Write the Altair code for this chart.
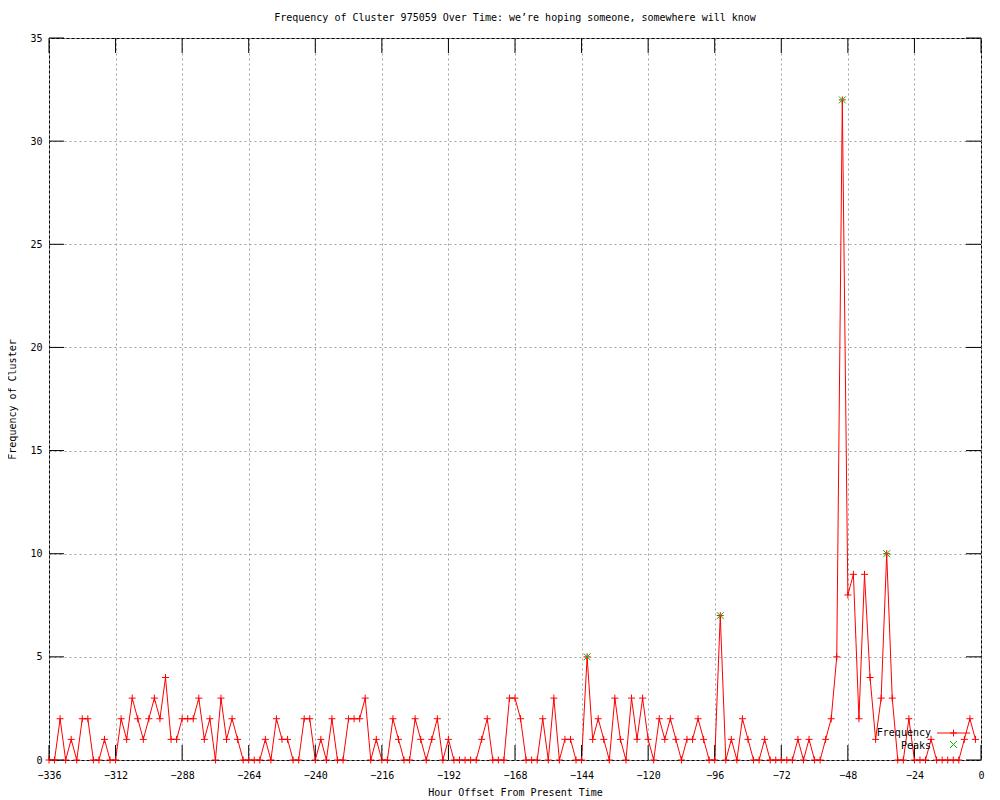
import altair as alt
import pandas as pd

# ---------------- data ----------------
hours = list(range(-336, 0, 2))
frequency = [
    0, 0, 2, 0, 1, 0, 2, 2, 0, 0, 1, 0,      # -336 .. -314
    0, 2, 1, 3, 2, 1, 2, 3, 2, 4, 1, 1,      # -312 .. -290
    2, 2, 2, 3, 1, 2, 0, 3, 1, 2, 1, 0,      # -288 .. -266
    0, 0, 0, 1, 0, 2, 1, 1, 0, 0, 2, 2,      # -264 .. -242
    0, 1, 0, 2, 0, 0, 2, 2, 2, 3, 0, 1,      # -240 .. -218
    0, 0, 2, 1, 0, 0, 2, 1, 0, 1, 2, 0,      # -216 .. -194
    1, 0, 0, 0, 0, 0, 1, 2, 0, 0, 0, 3,      # -192 .. -170
    3, 2, 0, 0, 0, 2, 0, 3, 0, 1, 1, 0,      # -168 .. -146
    0, 5, 1, 2, 1, 0, 3, 1, 0, 3, 1, 3,      # -144 .. -122
    1, 0, 2, 1, 2, 1, 0, 1, 1, 2, 1, 0,      # -120 .. -98
    0, 7, 0, 1, 0, 2, 1, 0, 0, 1, 0, 0,      # -96 .. -74
    0, 0, 0, 1, 0, 1, 0, 0, 1, 2, 5, 32,     # -72 .. -50
    8, 9, 2, 9, 4, 1, 3, 10, 3, 0, 0, 2,     # -48 .. -26
    0, 0, 0, 1, 0, 0, 0, 0, 0, 1, 2, 1,      # -24 .. -2
]
peak_hours = [-142, -94, -50, -34]
peak_values = [5, 7, 32, 10]

x_ticks = [-336, -312, -288, -264, -240, -216, -192, -168, -144, -120, -96, -72, -48, -24, 0]
y_ticks = [0, 5, 10, 15, 20, 25, 30, 35]
legend_labels = ["Frequency", "Peaks"]

title_text = "Frequency of Cluster 975059 Over Time: we\u2019re hoping someone, somewhere will know"
x_title = "Hour Offset From Present Time"
y_title = "Frequency of Cluster"

# ---------------- style ----------------
FONT = "DejaVu Sans Mono"
W, H = 932, 722
RED = "#ff0000"
GREEN = "#00c000"
PLUS = "M-1,0L1,0M0,-1L0,1"
XSHAPE = "M-1,-1L1,1M1,-1L-1,1"

freq_df = pd.DataFrame({"hour": hours, "freq": frequency})
peak_df = pd.DataFrame({"hour": peak_hours, "freq": peak_values})

x_scale = alt.Scale(domain=[-336, 0], nice=False, zero=False)
y_scale = alt.Scale(domain=[0, 35], nice=False, zero=False)

x_axis = alt.Axis(
    values=x_ticks, grid=True, gridColor="#a0a0a0", gridDash=[2, 3], gridWidth=1,
    ticks=False, domain=False, labelFont=FONT, labelFontSize=10, labelColor="black",
    labelPadding=15, labelBaseline="middle", labelFlush=False, labelOverlap=False,
    title=x_title, titleFont=FONT, titleFontSize=10, titleFontWeight="normal",
    titleColor="black", titleX=W / 2, titleY=32, titleBaseline="middle", titleAlign="center",
)
y_axis = alt.Axis(
    values=y_ticks, grid=True, gridColor="#a0a0a0", gridDash=[2, 3], gridWidth=1,
    ticks=False, domain=False, labelFont=FONT, labelFontSize=10, labelColor="black",
    labelPadding=7, labelFlush=False, labelOverlap=False,
    title=y_title, titleFont=FONT, titleFontSize=10, titleFontWeight="normal",
    titleColor="black", titleX=-37, titleY=H / 2, titleAngle=270,
    titleBaseline="middle", titleAlign="center",
)

line = alt.Chart(freq_df).mark_line(color=RED, strokeWidth=1).encode(
    x=alt.X("hour:Q", scale=x_scale, axis=x_axis),
    y=alt.Y("freq:Q", scale=y_scale, axis=y_axis),
)
points = alt.Chart(freq_df).mark_point(
    shape=PLUS, size=49, color=RED, stroke=RED, strokeWidth=1, filled=False, opacity=1
).encode(x="hour:Q", y="freq:Q")
peaks = alt.Chart(peak_df).mark_point(
    shape=XSHAPE, size=49, color=GREEN, stroke=GREEN, strokeWidth=1, filled=False, opacity=1
).encode(x="hour:Q", y="freq:Q")

xt_df = pd.DataFrame({"hour": x_ticks})
yt_df = pd.DataFrame({"freq": y_ticks})
tick_style = dict(color="black", strokeWidth=1)
xt_bottom = alt.Chart(xt_df).mark_rule(**tick_style).encode(
    x="hour:Q", y=alt.value(H), y2=alt.value(H - 15))
xt_top = alt.Chart(xt_df).mark_rule(**tick_style).encode(
    x="hour:Q", y=alt.value(0), y2=alt.value(15))
yt_left = alt.Chart(yt_df).mark_rule(**tick_style).encode(
    y="freq:Q", x=alt.value(0), x2=alt.value(15))
yt_right = alt.Chart(yt_df).mark_rule(**tick_style).encode(
    y="freq:Q", x=alt.value(W - 15), x2=alt.value(W))

# legend (key) drawn inside the plot, bottom right
leg1_df = pd.DataFrame({"label": [legend_labels[0]]})
leg2_df = pd.DataFrame({"label": [legend_labels[1]]})
leg1_text = alt.Chart(leg1_df).mark_text(
    font=FONT, fontSize=10, align="right", baseline="middle", color="black"
).encode(text="label:N", x=alt.value(882), y=alt.value(695))
leg1_line = alt.Chart(leg1_df).mark_rule(color=RED, strokeWidth=1).encode(
    x=alt.value(888), x2=alt.value(921), y=alt.value(695))
leg1_mark = alt.Chart(leg1_df).mark_point(
    shape=PLUS, size=49, color=RED, stroke=RED, strokeWidth=1, filled=False, opacity=1
).encode(x=alt.value(904.5), y=alt.value(695))
leg2_text = alt.Chart(leg2_df).mark_text(
    font=FONT, fontSize=10, align="right", baseline="middle", color="black"
).encode(text="label:N", x=alt.value(882), y=alt.value(707.5))
leg2_mark = alt.Chart(leg2_df).mark_point(
    shape=XSHAPE, size=49, color=GREEN, stroke=GREEN, strokeWidth=1, filled=False, opacity=1
).encode(x=alt.value(904.5), y=alt.value(706.5))

title_df = pd.DataFrame({"t": [title_text]})
title = alt.Chart(title_df).mark_text(
    font=FONT, fontSize=10, align="center", baseline="middle", color="black"
).encode(text="t:N", x=alt.value(W / 2), y=alt.value(-20.5))

chart = alt.layer(
    line, xt_bottom, xt_top, yt_left, yt_right, points, peaks,
    leg1_text, leg1_line, leg1_mark, leg2_text, leg2_mark, title,
).properties(
    width=W, height=H,
    padding={"left": 41, "top": 30, "right": 11, "bottom": 40},
    autosize=alt.AutoSizeParams(type="none"),
).configure(background="white").configure_view(stroke="black", strokeWidth=1)

chart.save("out.html", embed_options={"renderer": "svg", "actions": False})
